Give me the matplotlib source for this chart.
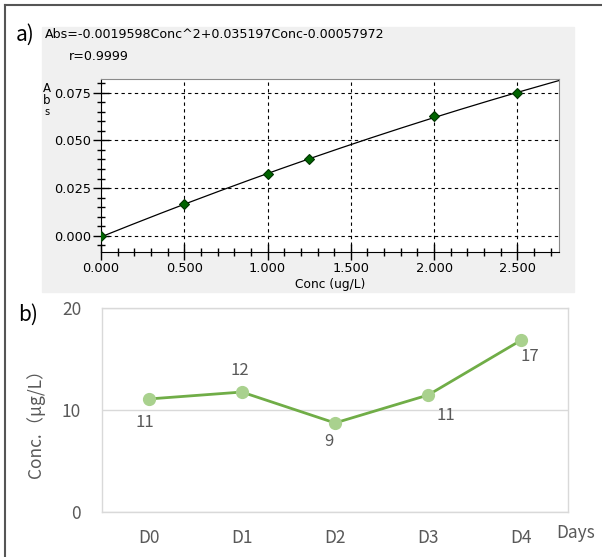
import numpy as np
import matplotlib.pyplot as plt
from matplotlib.lines import Line2D
from matplotlib.patches import Rectangle
from matplotlib.ticker import MultipleLocator, FormatStrFormatter

# panel a: calibration standards
std_conc = [0.0, 0.5, 1.0, 1.25, 2.0, 2.5]
std_abs = [-0.0003, 0.0165, 0.0325, 0.0400, 0.0628, 0.0750]
fit_coef = [-0.0019598, 0.035197, -0.00057972]  # Abs = a*C^2 + b*C + c
equation = "Abs=-0.0019598Conc^2+0.035197Conc-0.00057972"
r_text = "r=0.9999"

# panel b: daily concentration
days = ["D0", "D1", "D2", "D3", "D4"]
conc = [11.08, 11.76, 8.73, 11.47, 16.86]
conc_labels = ["11", "12", "9", "11", "17"]
label_offsets = [(-4, -24), (-2, 22), (-6, -19), (18, -20), (8, -16)]

W, H = 602, 557


def fx(px):
    return px / W


def fy(py):
    return 1 - py / H


fig = plt.figure(figsize=(W / 100, H / 100), dpi=100)

# outer frame (left + top only)
fig.add_artist(Line2D([fx(5), fx(5)], [fy(5), 0], color='#555555', lw=1.5))
fig.add_artist(Line2D([fx(5), 1], [fy(5), fy(5)], color='#555555', lw=1.5))

# gray background of the instrument screenshot
fig.add_artist(Rectangle((fx(42), fy(292)), (574 - 42) / W, (292 - 27) / H,
                         transform=fig.transFigure, color='#F0F0F0', zorder=0))

# ---- panel a ----
axa = fig.add_axes([fx(101), fy(252), (559 - 101) / W, (252 - 79) / H])
axa.set_facecolor('white')
cx = np.linspace(0, 2.75, 200)
cy = np.polyval(fit_coef, cx)
axa.plot(cx, cy, color='black', lw=0.9, zorder=3)
axa.plot(std_conc, std_abs, 'D', ms=5.5, mfc='#006400', mec='#003300',
         mew=0.8, zorder=4)

axa.set_xlim(0, 2.75)
axa.set_ylim(-0.0085, 0.0822)
axa.xaxis.set_major_locator(MultipleLocator(0.5))
axa.xaxis.set_minor_locator(MultipleLocator(0.1))
axa.yaxis.set_major_locator(MultipleLocator(0.025))
axa.yaxis.set_minor_locator(MultipleLocator(0.005))
axa.xaxis.set_major_formatter(FormatStrFormatter('%.3f'))
axa.yaxis.set_major_formatter(FormatStrFormatter('%.3f'))
axa.tick_params(which='major', direction='inout', length=11, width=1,
                labelsize=9.3, pad=1.5, colors='black')
axa.tick_params(which='minor', direction='inout', length=6, width=1)
axa.grid(True, which='major', color='black', ls=(0, (3, 3)), lw=0.8)
axa.spines['top'].set_color('#8a8a8a')
axa.spines['right'].set_color('#8a8a8a')
axa.set_xlabel('Conc (ug/L)', fontsize=8.8, labelpad=2)

fig.text(fx(16), fy(35), 'a)', fontsize=15, va='center', ha='left',
         family=['Noto Sans CJK JP', 'DejaVu Sans'])
fig.text(fx(45), fy(34), equation, fontsize=9.1, va='center', ha='left')
fig.text(fx(69), fy(57), r_text, fontsize=9.1, va='center', ha='left')
for i, ch in enumerate("Abs"):
    fig.text(fx(47), fy(88 + 12 * i), ch, fontsize=8.5 if ch != 's' else 7,
             va='center', ha='center')

# ---- panel b ----
jp = ['Noto Sans CJK JP', 'DejaVu Sans']
gray = '#595959'
axb = fig.add_axes([fx(102), fy(512), (568 - 102) / W, (512 - 308) / H])
xpos = np.arange(len(days))
axb.plot(xpos, conc, color='#70AD47', lw=2, marker='o', ms=8.5,
         mfc='#A9D18E', mec='#A9D18E', zorder=3)
for x, y, lab, off in zip(xpos, conc, conc_labels, label_offsets):
    axb.annotate(lab, (x, y), xytext=off, textcoords='offset pixels',
                 ha='center', va='center', fontsize=12, color=gray,
                 family=jp)

axb.set_xlim(-0.5, 4.5)
axb.set_ylim(0, 20)
axb.set_yticks([0, 10, 20])
axb.set_xticks(xpos)
axb.set_xticklabels(days)
axb.tick_params(length=0, labelsize=12.5, colors=gray)
axb.tick_params(axis='x', pad=12)
axb.tick_params(axis='y', pad=15)
for lab in axb.get_xticklabels() + axb.get_yticklabels():
    lab.set_family(jp)
axb.grid(True, axis='y', color='#D9D9D9', lw=1)
for s in axb.spines.values():
    s.set_color('#D9D9D9')
    s.set_linewidth(1)
axb.set_ylabel('Conc.（μg/L）', fontsize=12.5, color=gray, family=jp)
axb.yaxis.set_label_coords((45 - 102) / 466, (512 - 419) / 204)
fig.text(fx(576), fy(533), 'Days', fontsize=12.5, color=gray, ha='center',
         va='center', family=jp)
fig.text(fx(18), fy(315), 'b)', fontsize=15, va='center', ha='left',
         family=jp)

fig.savefig('out.png', dpi=100)
